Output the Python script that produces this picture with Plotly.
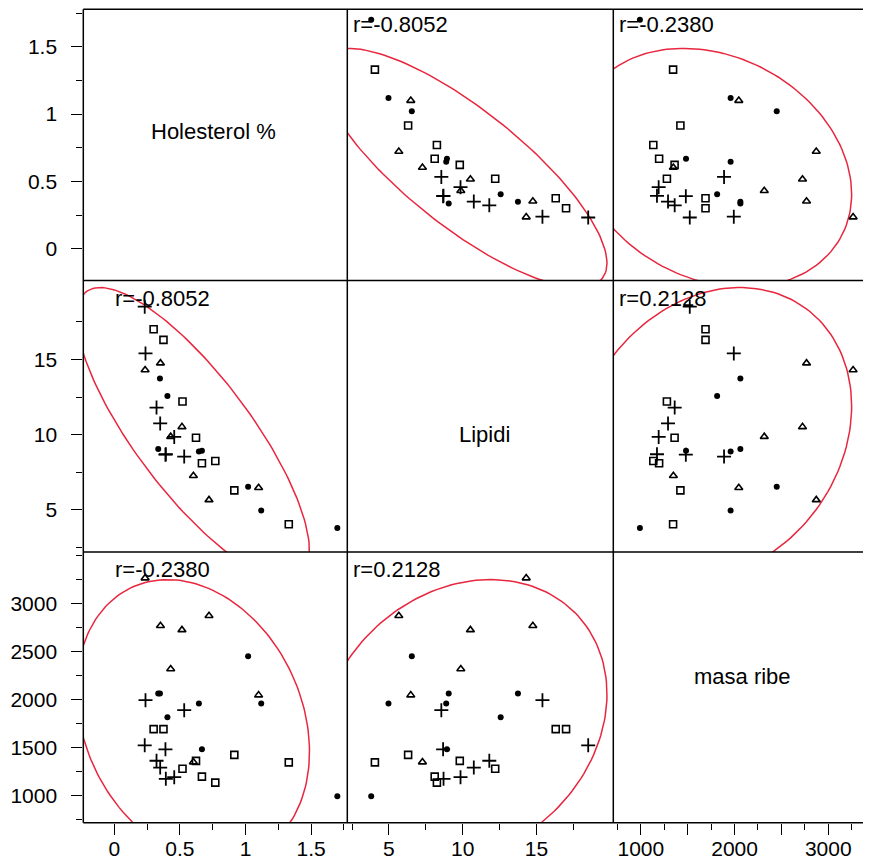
import numpy as np
import plotly.graph_objects as go

# ---------------- data ----------------
var_names = ["Holesterol %", "Lipidi", "masa ribe"]
r_labels = {(0, 1): "r=-0.8052", (0, 2): "r=-0.2380", (1, 2): "r=0.2128"}

# group: open triangles
tri_hol = [0.235, 0.352, 0.516, 0.722, 0.43, 1.10, 0.603]
tri_lip = [14.3, 14.75, 10.52, 5.67, 9.87, 6.48, 7.27]
tri_mas = [3265, 2768, 2725, 2872, 2317, 2045, 1347]
# group: filled dots
dot_hol = [1.02, 1.12, 1.70, 0.405, 0.645, 0.668, 0.335, 0.348]
dot_lip = [6.55, 4.97, 3.8, 12.57, 8.88, 8.93, 9.05, 13.74]
dot_mas = [2450, 1958, 990, 1814, 1958, 1482, 2062, 2062]
# group: open squares
sq_hol = [0.30, 0.375, 0.52, 0.623, 0.668, 0.77, 0.915, 1.33]
sq_lip = [17.0, 16.3, 12.2, 9.8, 8.1, 8.25, 6.3, 4.05]
sq_mas = [1690, 1690, 1278, 1360, 1195, 1133, 1422, 1344]
# group: plus signs
pl_hol = [0.238, 0.232, 0.533, 0.39, 0.322, 0.35, 0.457, 0.393]
pl_lip = [15.4, 18.5, 8.55, 8.67, 11.8, 10.75, 9.85, 8.7]
pl_mas = [1992, 1522, 1888, 1480, 1361, 1290, 1190, 1172]

# axis ranges
hol_range = [-0.236, 1.776]
lip_range = [2.18, 20.2]
mas_range_y = [715, 3537]
mas_range_x = [706, 3456]

# ---------------- layout geometry (viewport pixels) ----------------
OFF = 8  # default page margin around the plot div
W, H = 871 - OFF, 861 - OFF
col_px = [(83.3, 347.3), (347.3, 613.3), (613.3, 871.0)]
row_px = [(9.3, 280.5), (280.5, 552.0), (552.0, 822.7)]

def fx(px):
    return (px - OFF) / W

def fy(py):
    return 1 - (py - OFF) / H

groups = [
    dict(name="a", h=tri_hol, l=tri_lip, m=tri_mas,
         marker=dict(symbol="triangle-up-open", size=7, color="black",
                     line=dict(width=1.6, color="black"))),
    dict(name="b", h=dot_hol, l=dot_lip, m=dot_mas,
         marker=dict(symbol="circle", size=6, color="black",
                     line=dict(width=0))),
    dict(name="c", h=sq_hol, l=sq_lip, m=sq_mas,
         marker=dict(symbol="square-open", size=7, color="black",
                     line=dict(width=1.6, color="black"))),
    dict(name="d", h=pl_hol, l=pl_lip, m=pl_mas,
         marker=dict(symbol="cross-thin-open", size=10, color="black",
                     line=dict(width=1.8, color="black"))),
]

def col_of(g, k):
    return np.array({0: g["h"], 1: g["l"], 2: g["m"]}[k], dtype=float)

all_vals = [np.concatenate([col_of(g, k) for g in groups]) for k in range(3)]

fig = go.Figure()

def xa(j):
    return "x" if j == 0 else f"x{j+1}"

def ya(i):
    return "y" if i == 0 else f"y{i+1}"

# density ellipses of the fitted bivariate normal
c_level = 6.45
t = np.linspace(0, 2 * np.pi, 181)
for i in range(3):
    for j in range(3):
        if i == j:
            continue
        xv, yv = all_vals[j], all_vals[i]
        mu = np.array([xv.mean(), yv.mean()])
        cov = np.cov(np.vstack([xv, yv]))
        evals, evecs = np.linalg.eigh(cov)
        circ = np.vstack([np.cos(t), np.sin(t)])
        pts = evecs @ (np.sqrt(evals * c_level)[:, None] * circ) + mu[:, None]
        fig.add_trace(go.Scatter(x=pts[0], y=pts[1], mode="lines",
                                 line=dict(color="rgb(232,38,62)", width=1.5),
                                 xaxis=xa(j), yaxis=ya(i), showlegend=False,
                                 hoverinfo="skip"))

# points
for i in range(3):
    for j in range(3):
        if i == j:
            continue
        for g in groups:
            fig.add_trace(go.Scatter(x=col_of(g, j), y=col_of(g, i), mode="markers",
                                     marker=g["marker"], xaxis=xa(j), yaxis=ya(i),
                                     showlegend=False, cliponaxis=True))

tickfont = dict(family="Liberation Sans, Arial, sans-serif", size=21, color="black")

def axis_common():
    return dict(showgrid=False, zeroline=False, showline=False, ticks="outside",
                ticklen=11, tickwidth=1, tickcolor="black", tickfont=tickfont,
                fixedrange=True, automargin=False)

layout = dict(width=W, height=H, margin=dict(l=0, r=0, t=0, b=0, pad=0),
              paper_bgcolor="white", plot_bgcolor="white", showlegend=False,
              autosize=False)

x_specs = [
    dict(range=hol_range, tickmode="array", tickvals=[0, 0.5, 1, 1.5],
         ticktext=["0", "0.5", "1", "1.5"],
         minor=dict(ticks="outside", ticklen=6, tickcolor="black",
                    tickvals=[0.25, 0.75, 1.25, 1.75])),
    dict(range=lip_range, tickmode="array", tickvals=[5, 10, 15],
         ticktext=["5", "10", "15"],
         minor=dict(ticks="outside", ticklen=6, tickcolor="black",
                    tickvals=[2.5, 7.5, 12.5, 17.5])),
    dict(range=mas_range_x, tickmode="array", tickvals=[1000, 1500, 2000, 2500, 3000],
         ticktext=["1000", "", "2000", "", "3000"],
         minor=dict(ticks="outside", ticklen=6, tickcolor="black",
                    tickvals=[750, 1250, 1750, 2250, 2750, 3250])),
]
y_specs = [
    dict(range=[-0.236, 1.778], tickmode="array", tickvals=[0, 0.5, 1, 1.5],
         ticktext=["0", "0.5", "1", "1.5"],
         minor=dict(ticks="outside", ticklen=6, tickcolor="black",
                    tickvals=[0.25, 0.75, 1.25, 1.75])),
    dict(range=[2.21, 20.24], tickmode="array", tickvals=[5, 10, 15],
         ticktext=["5", "10", "15"],
         minor=dict(ticks="outside", ticklen=6, tickcolor="black",
                    tickvals=[2.5, 7.5, 12.5, 17.5])),
    dict(range=mas_range_y, tickmode="array", tickvals=[1000, 1500, 2000, 2500, 3000],
         ticktext=["1000", "1500", "2000", "2500", "3000"],
         minor=dict(ticks="outside", ticklen=6, tickcolor="black",
                    tickvals=[750, 1250, 1750, 2250, 2750, 3250, 3500])),
]

for j in range(3):
    key = "xaxis" if j == 0 else f"xaxis{j+1}"
    d = axis_common()
    d.update(x_specs[j])
    d.update(domain=[fx(col_px[j][0]), min(1.0, fx(col_px[j][1]))], anchor="y3",
             ticklabelstandoff=-4)
    layout[key] = d
for i in range(3):
    key = "yaxis" if i == 0 else f"yaxis{i+1}"
    d = axis_common()
    d.update(y_specs[i])
    d.update(domain=[fy(row_px[i][1]), fy(row_px[i][0])], anchor="x",
             ticklabelstandoff=10)
    layout[key] = d

fig.update_layout(**layout)

# panel borders
shapes = []
lw = 1.5
for xpx in [col_px[0][0], col_px[1][0], col_px[2][0]]:
    shapes.append(dict(type="line", xref="paper", yref="paper",
                       x0=fx(xpx), x1=fx(xpx), y0=fy(row_px[0][0]), y1=fy(row_px[2][1]),
                       line=dict(color="black", width=lw)))
for ypx in [row_px[0][0], row_px[1][0], row_px[2][0], row_px[2][1]]:
    shapes.append(dict(type="line", xref="paper", yref="paper",
                       x0=fx(col_px[0][0]), x1=1.0, y0=fy(ypx), y1=fy(ypx),
                       line=dict(color="black", width=lw)))
fig.update_layout(shapes=shapes)

# annotations
textfont = dict(family="Liberation Sans, Arial, sans-serif", size=22, color="black")
annots = []
r_x = [114.0, 351.5, 617.5]
r_y = [25.0, 298.0, 569.0]
for (a, b), txt in r_labels.items():
    for (i, j) in [(a, b), (b, a)]:
        annots.append(dict(text=txt, xref="paper", yref="paper",
                           x=fx(r_x[j]), y=fy(r_y[i]), xanchor="left", yanchor="middle",
                           showarrow=False, font=textfont, borderpad=0))
diag_pos = [(213.0, 131.5), (484.0, 434.0), (742.0, 676.0)]
for k, name in enumerate(var_names):
    annots.append(dict(text=name, xref="paper", yref="paper",
                       x=fx(diag_pos[k][0]), y=fy(diag_pos[k][1]),
                       xanchor="center", yanchor="middle", showarrow=False,
                       font=textfont))
fig.update_layout(annotations=annots)

fig.write_html("out.html")
